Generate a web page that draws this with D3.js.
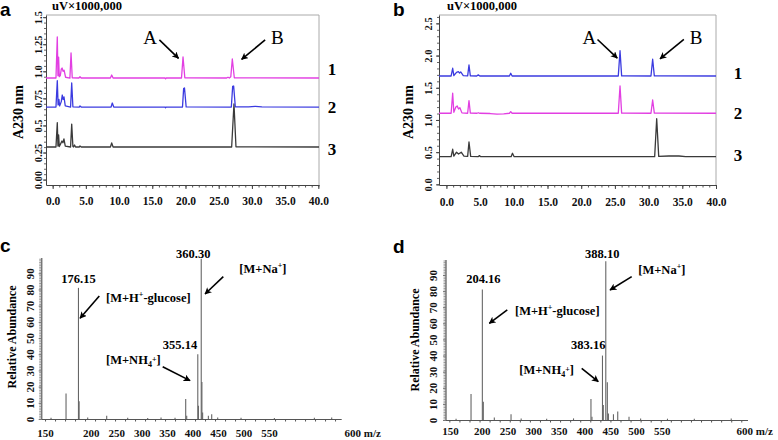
<!DOCTYPE html>
<html><head><meta charset="utf-8">
<script src="https://cdn.jsdelivr.net/npm/d3@7"></script>
<style>
body{margin:0;background:#fff;}
svg{display:block;}
svg text{font-family:"Liberation Serif","Times New Roman","DejaVu Serif",serif;}
svg text.letter{font-family:"Liberation Sans",Arial,"DejaVu Sans",sans-serif;}
</style></head><body>
<svg id="chart" width="778" height="440"></svg>
<script>
// ---------------- DATA ----------------
const timeTicks = [0,5,10,15,20,25,30,35,40];
const absTicksA = [0,0.25,0.5,0.75,1.0,1.25,1.5];
const absTickLabelsA = ["0.00","0.25","0.5","0.75","1.0","1.25","1.5"];
const absTicksB = [0,0.5,1.0,1.5,2.0,2.5];
const absTickLabelsB = ["0.0","0.5","1.0","1.5","2.0","2.5"];
const traceNames = ["1","2","3"];

// panel a chromatograms [time (min), signal]
const a1 = [[-1,0.938],[0.5,0.938],[0.7,1.317],[0.8,0.96],[0.9,1.13],[1.0,0.95],[1.15,0.96],[1.3,1.02],[1.42,1.03],[1.57,1.0],[1.72,1.01],[1.95,0.945],[2.6,0.938],[2.77,1.169],[2.95,0.94],[3.95,0.938],[4.12,0.95],[4.3,0.938],[8.7,0.938],[8.89,0.966],[9.1,0.938],[16.9,0.938],[17.0,0.93],[17.1,0.938],[19.4,0.938],[19.63,1.132],[19.9,0.94],[26.2,0.938],[26.4,0.945],[26.6,0.938],[26.82,0.95],[27.05,1.114],[27.35,0.94],[40.1,0.938]];
const a2 = [[-1,0.67],[0.5,0.67],[0.7,0.913],[0.82,0.69],[0.95,0.74],[1.05,0.68],[1.3,0.72],[1.45,0.781],[1.58,0.74],[1.71,0.763],[1.9,0.68],[2.7,0.67],[2.87,0.892],[3.05,0.672],[4.0,0.67],[4.12,0.68],[4.3,0.67],[8.8,0.67],[8.98,0.707],[9.2,0.67],[16.9,0.67],[17.0,0.664],[17.1,0.67],[19.55,0.67],[19.72,0.84],[19.85,0.846],[20.1,0.672],[26.9,0.67],[27.1,0.86],[27.25,0.864],[27.5,0.672],[29.5,0.672],[30.5,0.676],[31.5,0.672],[40.1,0.67]];
const a3 = [[-1,0.301],[0.5,0.301],[0.7,0.525],[0.8,0.31],[0.9,0.412],[1.0,0.305],[1.2,0.33],[1.4,0.356],[1.55,0.34],[1.7,0.375],[1.9,0.31],[2.7,0.301],[2.87,0.513],[3.05,0.305],[3.15,0.301],[3.3,0.319],[3.45,0.301],[4.0,0.301],[4.12,0.31],[4.3,0.301],[8.7,0.301],[8.89,0.338],[9.1,0.301],[26.95,0.301],[27.3,0.70],[27.6,0.303],[40.1,0.301]];

// panel b chromatograms
const b1 = [[-1.1,1.683],[0.7,1.683],[0.93,1.803],[1.1,1.69],[1.5,1.74],[1.77,1.75],[1.95,1.73],[2.12,1.745],[2.5,1.69],[3.15,1.685],[3.35,1.854],[3.55,1.685],[4.5,1.683],[4.73,1.70],[4.95,1.683],[9.35,1.683],[9.54,1.725],[9.75,1.683],[25.5,1.683],[25.76,2.076],[26.0,1.685],[30.35,1.683],[30.6,1.943],[30.85,1.685],[40,1.683]];
const b2 = [[-1.1,1.104],[0.7,1.104],[0.93,1.415],[1.1,1.12],[1.4,1.20],[1.6,1.218],[1.8,1.17],[2.0,1.19],[2.3,1.11],[3.15,1.104],[3.35,1.30],[3.55,1.106],[4.5,1.104],[4.73,1.112],[4.95,1.104],[6.5,1.1],[7.5,1.09],[8.5,1.095],[9.35,1.104],[9.54,1.13],[9.75,1.104],[25.5,1.104],[25.76,1.528],[26.0,1.106],[30.35,1.104],[30.6,1.31],[30.85,1.106],[40,1.104]];
const b3 = [[-1.1,0.43],[0.7,0.43],[0.93,0.545],[1.1,0.44],[1.5,0.50],[1.8,0.47],[2.2,0.50],[2.6,0.44],[3.15,0.435],[3.35,0.658],[3.6,0.435],[4.7,0.43],[4.9,0.446],[5.1,0.43],[9.6,0.43],[9.8,0.483],[10.05,0.43],[30.9,0.43],[31.2,1.02],[31.5,0.435],[33,0.44],[34.5,0.44],[35.5,0.432],[40,0.43]];

// mass spectra
const mzTicks = [150,200,250,300,350,400,450,500,550,600];
const abundanceTicks = [0,10,20,30,40,50,60,70,80,90];
const mzC  = [135,157.5,176.15,177.15,190,218.5,250,280,300,321,337.0,338.5,355.14,356.1,360.30,361.3,362.4,371,376,385,420,470,530,556];
const intC = [0.8,15.8,81,11,1,2,0.8,0.6,1,0.8,12.3,2,40,8.2,99,22.8,4,2,3,1,0.8,0.6,0.8,1];
const mzD  = [165,187.3,204.16,205.6,222,246.9,262,300,340,366,367.5,383.16,384.4,388.10,390.4,392,399.5,405.9,422.7,440,480,520,575];
const intD = [0.8,16.1,81,11.4,1.5,3.5,1,0.8,1,13,2,40,9.3,98.5,23.4,4,3.5,5.2,2,1,0.8,0.8,1];

// ---------------- HELPERS ----------------
const svg = d3.select("#chart");

const defs = svg.append("defs");
defs.append("marker").attr("id","ah").attr("viewBox","0 0 10 10")
  .attr("refX",9).attr("refY",5).attr("markerWidth",7).attr("markerHeight",7)
  .attr("markerUnits","userSpaceOnUse").attr("orient","auto")
  .append("path").attr("d","M0,0 L10,5 L0,10 L2.5,5 z").attr("fill","#000");

function letter(txt, x, y){
  svg.append("text").attr("class","letter").attr("x",x).attr("y",y).text(txt)
    .style("font-weight","bold").style("font-size","19px").attr("fill","#000");
}

function rotateYLabels(g, dx){
  g.selectAll(".tick text")
    .attr("x",null).attr("dy","0.35em")
    .attr("transform",`translate(${-dx},0) rotate(-90)`)
    .attr("text-anchor","middle");
}

// ---------------- CHROMATOGRAM PANELS ----------------
function chromPanel(cfg){
  const x = d3.scaleLinear().domain(cfg.tDomain).range([cfg.left,cfg.right]);
  const y = d3.scaleLinear().domain(cfg.vDomain).range([cfg.bottom,cfg.top]);
  const g = svg.append("g");

  g.append("path").attr("d",`M${cfg.left},${cfg.top}H${cfg.right}V${cfg.bottom}`)
    .attr("fill","none").attr("stroke","#aaa").attr("stroke-width",1);

  const minor = g.append("g").attr("transform",`translate(0,${cfg.bottom})`)
    .call(d3.axisBottom(x).tickValues(d3.range(0,41,1)).tickSize(2.5).tickFormat(""));
  minor.select(".domain").remove();
  minor.selectAll("line").attr("stroke","#555");
  const xa = g.append("g").attr("transform",`translate(0,${cfg.bottom})`)
    .call(d3.axisBottom(x).tickValues(timeTicks).tickSize(4).tickSizeOuter(0).tickFormat(d3.format(".1f")));
  xa.select(".domain").attr("stroke","#444");
  xa.selectAll("line").attr("stroke","#444");
  xa.selectAll("text").attr("y",cfg.xLabelOff).attr("dy","0.35em").attr("font-family",null)
    .style("font-weight","bold").style("font-size","11.5px").attr("fill","#111");

  const yminor = g.append("g").attr("transform",`translate(${cfg.left},0)`)
    .call(d3.axisLeft(y).tickValues(d3.range(0,cfg.vDomain[1],cfg.minorStep)).tickSize(2).tickFormat(""));
  yminor.select(".domain").remove();
  yminor.selectAll("line").attr("stroke","#666");
  const ya = g.append("g").attr("transform",`translate(${cfg.left},0)`)
    .call(d3.axisLeft(y).tickValues(cfg.vTicks).tickSize(3).tickSizeOuter(0)
      .tickFormat((d,i)=>cfg.vLabels[i]));
  ya.select(".domain").attr("stroke","#444");
  ya.selectAll("line").attr("stroke","#444");
  ya.selectAll("text").style("font-weight","bold").style("font-size","10.5px").attr("fill","#111");
  rotateYLabels(ya, cfg.yLabelOff);

  const line = d3.line().x(d=>x(d[0])).y(d=>y(d[1]));
  cfg.traces.slice().reverse().forEach(tr=>{
    g.append("path").datum(tr.data).attr("d",line)
      .attr("fill","none").attr("stroke",tr.color).attr("stroke-width",1.3).attr("stroke-linejoin","round");
  });
  cfg.traces.forEach((tr,i)=>{
    g.append("text").attr("x",cfg.right+cfg.nameOff).attr("y",y(tr.data[0][1])+cfg.nameDy[i])
      .attr("dy","0.35em").attr("text-anchor","middle")
      .style("font-weight","bold").style("font-size","17px").text(traceNames[i]);
  });
  cfg.notes.forEach(n=>{
    g.append("line").attr("x1",x(n.from[0])).attr("y1",y(n.from[1]))
      .attr("x2",x(n.to[0])).attr("y2",y(n.to[1]))
      .attr("stroke","#000").attr("stroke-width",1.6).attr("marker-end","url(#ah)");
    g.append("text").attr("x",x(n.at[0])).attr("y",y(n.at[1])).attr("dy","0.35em")
      .attr("text-anchor","middle").style("font-size","19px").text(n.text);
  });
  g.append("text").attr("x",cfg.left+cfg.unitOff).attr("y",10).text("uV\u00D71000,000")
    .style("font-weight","bold").style("font-size","12.5px");
  g.append("text").attr("transform",`translate(${cfg.titleX},${(cfg.top+cfg.bottom)/2+12}) rotate(-90)`)
    .attr("text-anchor","middle").attr("dy","0.35em")
    .style("font-weight","bold").style("font-size","14px").text("A230 nm");
}

chromPanel({
  left:46, right:319, top:15, bottom:185,
  tDomain:[-1,40.1], vDomain:[-0.05,1.52], minorStep:0.05,
  vTicks:absTicksA, vLabels:absTickLabelsA,
  xLabelOff:16, yLabelOff:7.5, nameOff:13, nameDy:[-9,0,2], unitOff:6, titleX:18,
  traces:[{data:a1,color:"#e23fe2"},{data:a2,color:"#3b3be0"},{data:a3,color:"#3a3a3a"}],
  notes:[
    {text:"A", at:[14.67,1.31], from:[16.07,1.29], to:[18.95,1.12]},
    {text:"B", at:[33.84,1.31], from:[31.99,1.29], to:[28.45,1.11]}
  ]
});
chromPanel({
  left:439, right:716, top:15, bottom:185,
  tDomain:[-1.1,40], vDomain:[-0.01,2.63], minorStep:0.1,
  vTicks:absTicksB, vLabels:absTickLabelsB,
  xLabelOff:16.5, yLabelOff:11, nameOff:22, nameDy:[-3,0,-2], unitOff:8, titleX:408,
  traces:[{data:b1,color:"#3b3be0"},{data:b2,color:"#e23fe2"},{data:b3,color:"#3a3a3a"}],
  notes:[
    {text:"A", at:[21.2,2.28], from:[22.42,2.25], to:[25.35,1.96]},
    {text:"B", at:[37.05,2.28], from:[35.23,2.25], to:[31.7,1.95]}
  ]
});

// ---------------- MASS SPECTRA ----------------
function ionLabel(sel, parts){
  parts.forEach(p=>{
    const t = sel.append("tspan").text(p.t);
    if(p.s==="sup"){ t.style("font-size","8px").attr("dy",-5); }
    else if(p.s==="sub"){ t.style("font-size","8px").attr("dy",3); }
    else if(p.dy){ t.attr("dy",p.dy); }
  });
}

function msPanel(cfg){
  const x = d3.scaleLinear().domain(cfg.mzDomain).range([cfg.left,cfg.right]);
  const y = d3.scaleLinear().domain([0,100]).range([cfg.bottom,cfg.bottom-100*cfg.pxPerUnit]);
  // tick-label placement as printed in the figure (end labels at axis ends)
  const xl = d3.scaleLinear().domain([150,200,550,600]).range(cfg.labelRange);
  const g = svg.append("g");

  const ym = g.append("g").attr("transform",`translate(${cfg.left},0)`)
    .call(d3.axisLeft(y).tickValues(d3.range(0,100,1)).tickSize(2.5).tickFormat(""));
  ym.select(".domain").remove();
  ym.selectAll("line").attr("stroke","#999");
  const ya = g.append("g").attr("transform",`translate(${cfg.left},0)`)
    .call(d3.axisLeft(y).tickValues(abundanceTicks).tickSize(3).tickSizeOuter(0));
  ya.select(".domain").attr("stroke","#777").attr("stroke-width",1.5)
    .attr("d",`M0,${cfg.bottom}V${cfg.axisTop}`);
  ya.selectAll("line").attr("stroke","#777");
  ya.selectAll("text").style("font-weight","bold").style("font-size","11px").attr("fill","#111");
  rotateYLabels(ya, cfg.yLabelOff);

  const xm = g.append("g").attr("transform",`translate(0,${cfg.bottom})`)
    .call(d3.axisBottom(x).tickValues(d3.range(cfg.mzDomain[0]+5, cfg.mzDomain[1], 15)).tickSize(2.5).tickFormat(""));
  xm.select(".domain").attr("stroke","#555").attr("d",`M${cfg.left},0.5H${cfg.right}`);
  xm.selectAll("line").attr("stroke","#555");
  const xa = g.append("g").attr("transform",`translate(0,${cfg.bottom})`)
    .call(d3.axisBottom(xl).tickValues(mzTicks).tickSize(0)
      .tickFormat(d=> d===600 ? "600 m/z" : String(d)));
  xa.select(".domain").remove();
  xa.selectAll("text").attr("y",cfg.xLabelOff).attr("dy","0.35em")
    .style("font-weight","bold").style("font-size","11px").attr("fill","#111");
  xa.selectAll(".tick").filter(d=>d===600).select("text").attr("text-anchor","start").attr("x",-8);

  g.selectAll("line.stick").data(cfg.mz.map((m,i)=>[m,cfg.int[i]])).join("line")
    .attr("class","stick")
    .attr("x1",d=>x(d[0])).attr("x2",d=>x(d[0]))
    .attr("y1",y(0)).attr("y2",d=>y(d[1]))
    .attr("stroke","#666").attr("stroke-width",1.1);

  cfg.peakLabels.forEach(p=>{
    g.append("text").attr("x",x(p.mz)).attr("y",y(p.ab)).attr("dy","0.35em")
      .attr("text-anchor","middle").style("font-weight","bold")
      .style("font-size","12.5px").text(p.text);
  });
  cfg.ions.forEach(n=>{
    const t = g.append("text").attr("x",x(n.at[0])).attr("y",y(n.at[1])).attr("dy","0.35em")
      .style("font-weight","bold").style("font-size","12.5px");
    ionLabel(t, n.parts);
    g.append("line").attr("x1",x(n.from[0])).attr("y1",y(n.from[1]))
      .attr("x2",x(n.to[0])).attr("y2",y(n.to[1]))
      .attr("stroke","#000").attr("stroke-width",1.6).attr("marker-end","url(#ah)");
  });
  g.append("text").attr("transform",`translate(${cfg.titleX},${cfg.titleY}) rotate(-90)`)
    .attr("text-anchor","middle").attr("dy","0.35em")
    .style("font-weight","bold").style("font-size","12px").text("Relative Abundance");
}

const glucose = [{t:"[M+H"},{t:"+",s:"sup"},{t:"-glucose]",dy:5}];
const sodium  = [{t:"[M+Na"},{t:"+",s:"sup"},{t:"]",dy:5}];
const ammon   = [{t:"[M+NH"},{t:"4",s:"sub"},{t:"+",s:"sup"},{t:"]",dy:2}];

msPanel({
  left:41.7, right:341.7, bottom:419, axisTop:258, pxPerUnit:1.619,
  mzDomain:[121,571], labelRange:[45,90.7,269,352],
  mz:mzC, int:intC, xLabelOff:14, yLabelOff:11.5, titleX:12, titleY:337,
  peakLabels:[{text:"176.15",mz:176.15,ab:86.9},{text:"360.30",mz:348.4,ab:102.3},{text:"355.14",mz:328.5,ab:45.7}],
  ions:[
    {parts:glucose, at:[217.5,75.2], from:[207.4,76.0], to:[178.5,62.2]},
    {parts:sodium,  at:[417.4,93.1], from:[393.4,87.9], to:[366,77.2]},
    {parts:ammon,   at:[217.5,36.4], from:[302.5,32.3], to:[343.5,23.7]}
  ]
});
msPanel({
  left:446, right:748, bottom:420, axisTop:260, pxPerUnit:1.611,
  mzDomain:[150,600], labelRange:[450,481.7,661.7,744],
  mz:mzD, int:intD, xLabelOff:11, yLabelOff:12.5, titleX:415, titleY:340,
  peakLabels:[{text:"204.16",mz:205.6,ab:88},{text:"388.10",mz:382.9,ab:103.5},{text:"383.16",mz:362,ab:46.6}],
  ions:[
    {parts:glucose, at:[252.8,67.8], from:[241.3,68.3], to:[214.5,60]},
    {parts:sodium,  at:[436.5,93.5], from:[426.7,89], to:[394.4,80.7]},
    {parts:ammon,   at:[259.2,31.5], from:[352.2,32.1], to:[376.9,23.8]}
  ]
});

letter("a",0,16); letter("b",393,16); letter("c",0,252); letter("d",393,253);
</script>
</body></html>
